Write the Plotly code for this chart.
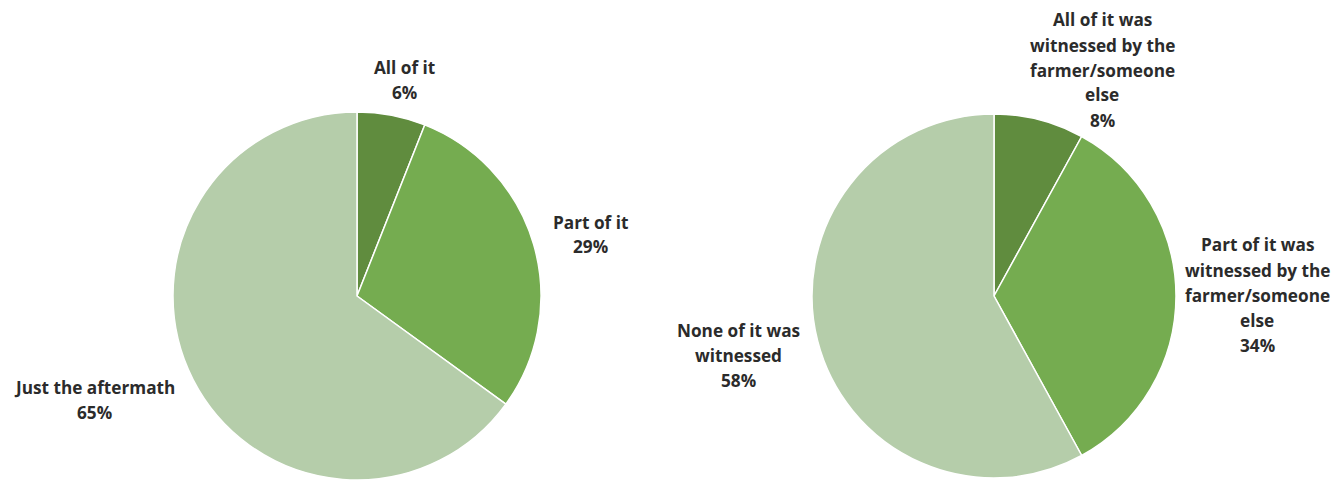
import plotly.graph_objects as go

# Survey responses: how much of the incident was witnessed
left_labels = ["All of it", "Part of it", "Just the aftermath"]
left_values = [6, 29, 65]

right_labels = [
    "All of it was<br>witnessed by the<br>farmer/someone<br>else",
    "Part of it was<br>witnessed by the<br>farmer/someone<br>else",
    "None of it was<br>witnessed",
]
right_values = [8, 34, 58]

colors = ["#608C3E", "#75AC50", "#B5CDAA"]

W, H = 1335, 480
FONT = dict(family="Open Sans, sans-serif", size=17.2, color="#2b2b2b", weight=700)
LINE_GAP = 25  # px between stacked label lines

fig = go.Figure()


def add_pie(labels, values, cx, cy, r):
    fig.add_trace(go.Pie(
        labels=labels,
        values=values,
        sort=False,
        direction="clockwise",
        rotation=0,
        textinfo="none",
        hoverinfo="label+percent",
        marker=dict(colors=colors, line=dict(color="white", width=1.5)),
        domain=dict(
            x=[(cx - r) / W, (cx + r) / W],
            y=[max(0.0, (H - cy - r) / H), (H - cy + r) / H],
        ),
        showlegend=False,
    ))


add_pie(left_labels, left_values, 357, 296, 184)
add_pie(right_labels, right_values, 994, 296, 182)


def add_label(text, value, x_px, y_top_px):
    lines = text.split("<br>") + [f"{value}%"]
    for i, line in enumerate(lines):
        fig.add_annotation(
            x=x_px / W, y=1 - (y_top_px + i * LINE_GAP) / H,
            xref="paper", yref="paper",
            text=line, showarrow=False,
            xanchor="center", yanchor="middle",
            font=FONT,
        )


# label anchor points (centre x, first line y) in pixels
left_pos = [(404, 68), (590, 222), (95, 387)]
right_pos = [(1102, 20), (1257, 245), (738, 330)]

for lab, val, (x, y) in zip(left_labels, left_values, left_pos):
    add_label(lab, val, x, y)
for lab, val, (x, y) in zip(right_labels, right_values, right_pos):
    add_label(lab, val, x, y)

fig.update_layout(
    width=W, height=H,
    margin=dict(l=0, r=0, t=0, b=0),
    paper_bgcolor="white",
    plot_bgcolor="white",
)

fig.write_html("out.html")
